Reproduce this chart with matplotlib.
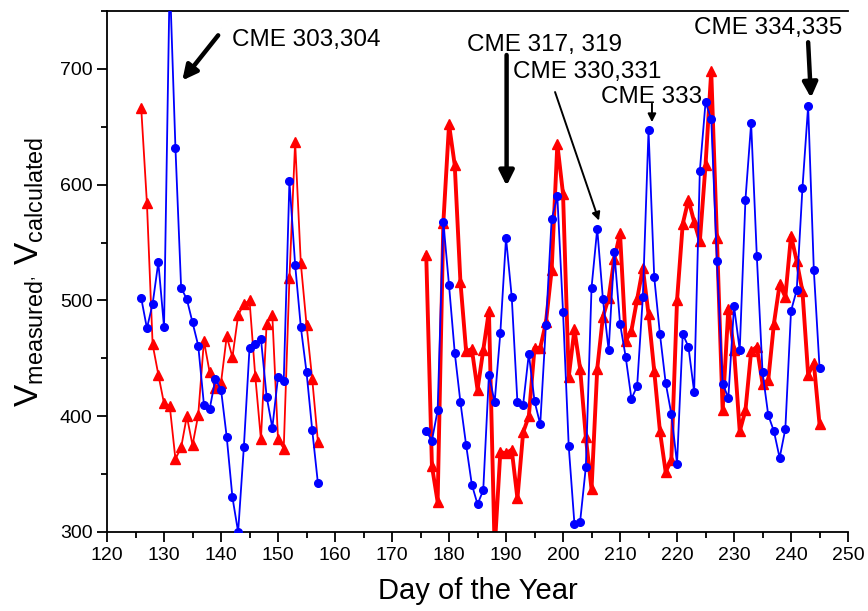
import matplotlib

matplotlib.use("Agg")
import matplotlib.pyplot as plt
from matplotlib.ticker import MultipleLocator

# day-of-year ranges for the two observation windows
days_early = list(range(126, 158))
days_late = list(range(176, 246))

# measured speed (blue circles)
v_meas_early = [502, 476, 497, 533, 477, 780, 632, 511, 501, 481, 461, 410, 406, 432, 423, 382,
                330, 300, 373, 459, 462, 467, 417, 390, 434, 430, 603, 531, 477, 438, 388, 342]
v_meas_late = [387, 379, 405, 568, 513, 455, 412, 375, 341, 324, 336, 436, 412, 472, 554, 503,
               412, 410, 454, 413, 393, 479, 570, 590, 490, 374, 307, 309, 356, 511, 562, 501,
               457, 542, 480, 451, 415, 426, 503, 647, 520, 471, 429, 402, 359, 471, 460, 421,
               612, 671, 657, 534, 428, 416, 495, 457, 587, 653, 538, 438, 401, 387, 364, 389,
               491, 509, 597, 668, 526, 442]

# calculated speed (red triangles)
v_calc_early = [666, 584, 462, 436, 411, 409, 363, 373, 400, 375, 401, 465, 438, 424, 429, 469,
                451, 487, 497, 500, 435, 380, 480, 487, 380, 372, 519, 637, 532, 479, 432, 378]
v_calc_late = [539, 357, 326, 567, 652, 617, 516, 456, 458, 423, 457, 491, 285, 369, 368, 371,
               329, 386, 400, 459, 459, 481, 526, 635, 592, 434, 475, 441, 382, 337, 441, 486,
               502, 536, 558, 465, 474, 501, 528, 488, 439, 387, 352, 362, 500, 566, 587, 568,
               551, 617, 698, 554, 405, 493, 457, 387, 405, 456, 460, 428, 431, 480, 514, 503,
               556, 534, 508, 436, 446, 393]

# CME labels: text, text position, arrow tail, arrow head, thick arrow?
cme_labels = ["CME 303,304", "CME 317, 319", "CME 330,331", "CME 333", "CME 334,335"]
cme_text_xy = [(142.0, 725), (183.1, 721), (191.2, 697), (206.6, 676), (223.0, 735)]
cme_tail_xy = [(139.5, 729), (190.1, 712), (198.6, 680), (215.6, 670), (243.0, 723)]
cme_head_xy = [(133.2, 690), (190.1, 599), (206.3, 569), (215.6, 654), (243.5, 675)]
cme_thick = [True, True, False, False, True]

plt.rcParams["font.family"] = ["Liberation Sans", "DejaVu Sans"]
plt.rcParams["mathtext.fontset"] = "custom"
plt.rcParams["mathtext.rm"] = "Liberation Sans"
plt.rcParams["mathtext.it"] = "Liberation Sans:italic"

fig, ax = plt.subplots(figsize=(8.68, 6.11), dpi=100)
fig.subplots_adjust(left=0.1233, right=0.977, bottom=0.1293, top=0.982)

blue = "#0000FF"
red = "#FF0000"

ax.plot(days_early, v_meas_early, color=blue, lw=1.3, marker="o", ms=5.5, zorder=3)
ax.plot(days_late, v_meas_late, color=blue, lw=1.3, marker="o", ms=5.5, zorder=3)
ax.plot(days_early, v_calc_early, color=red, lw=1.3, marker="^", ms=6.5, zorder=2)
ax.plot(days_late, v_calc_late, color=red, lw=2.8, marker="^", ms=6.5, zorder=2)

for label, txy, tail, head, thick in zip(cme_labels, cme_text_xy, cme_tail_xy, cme_head_xy, cme_thick):
    ax.text(txy[0], txy[1], label, fontsize=17.5, ha="left", va="center", zorder=5)
    if thick:
        props = dict(arrowstyle="-|>", lw=3.2, color="black", mutation_scale=22, shrinkA=0, shrinkB=0)
    else:
        props = dict(arrowstyle="-|>", lw=1.4, color="black", mutation_scale=12, shrinkA=0, shrinkB=0)
    ax.annotate("", xy=head, xytext=tail, arrowprops=props, zorder=5)

ax.set_xlim(120, 250)
ax.set_ylim(300, 750)
ax.xaxis.set_major_locator(MultipleLocator(10))
ax.xaxis.set_minor_locator(MultipleLocator(5))
ax.yaxis.set_major_locator(MultipleLocator(100))
ax.yaxis.set_minor_locator(MultipleLocator(50))
ax.tick_params(which="major", direction="out", length=7, width=1.3, labelsize=14)
ax.tick_params(which="minor", direction="out", length=4, width=1.3)
ax.tick_params(top=False, right=False)
ax.spines["right"].set_visible(False)
for spine in ax.spines.values():
    spine.set_linewidth(1.3)

ax.set_xlabel("Day of the Year", fontsize=21, labelpad=10)
ax.set_ylabel(r"$\mathrm{V}_{\mathrm{measured}^{,}}\ \mathrm{V}_{\mathrm{calculated}}$", fontsize=24, labelpad=10)

fig.savefig("out.png", dpi=100)
